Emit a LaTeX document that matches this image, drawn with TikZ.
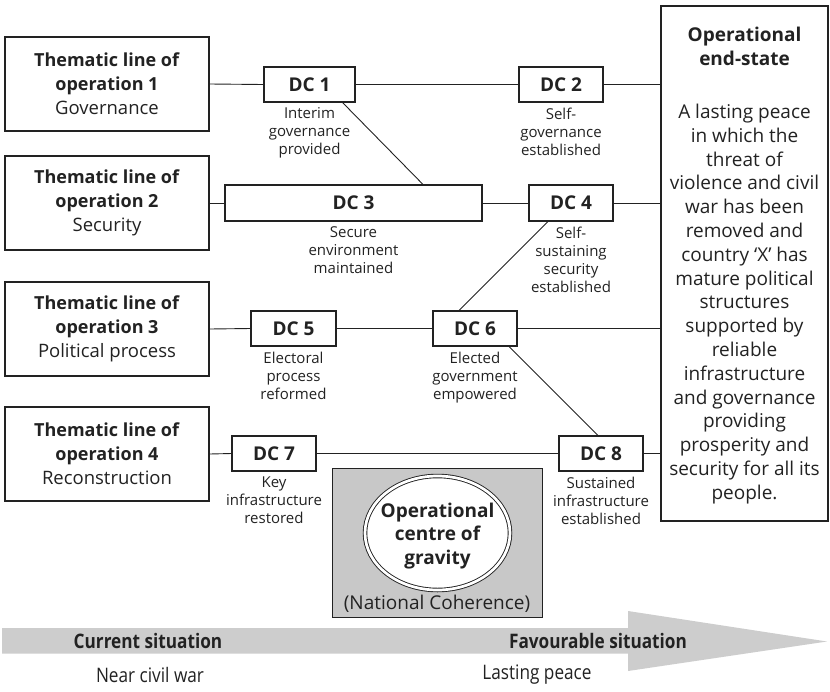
\documentclass[tikz,border=0pt]{standalone}
\usepackage{fontspec}
\setmainfont{Open Sans}
\newfontfamily\condfont[FakeStretch=0.86]{Open Sans}
\usetikzlibrary{shapes.geometric}
\definecolor{ink}{HTML}{222222}
\definecolor{boxgray}{HTML}{C8C8C8}
\definecolor{arrowgray}{HTML}{CDCDCD}
\tikzset{
  linebox/.style={draw=ink, line width=1.1pt, fill=white, inner sep=0pt, align=center, text=ink},
  thembox/.style={linebox, minimum width=204pt, minimum height=94pt, font=\fontsize{18}{24}\selectfont},
  dcbox/.style={linebox, minimum height=35pt, font=\bfseries\fontsize{19}{22}\selectfont},
  dclabel/.style={anchor=north, inner sep=0pt, yshift=-5pt, align=center, text=ink, font=\fontsize{15}{18}\selectfont},
  conn/.style={draw=ink, line width=0.9pt},
  plain/.style={inner sep=0pt, text=ink, align=center}
}
\begin{document}
\begin{tikzpicture}[x=1pt,y=-1pt]
\useasboundingbox (0,0) rectangle (830,691);
% arrow
\fill[arrowgray] (2,628) -- (628,628) -- (628,611) -- (827,641.5) -- (628,671) -- (628,653.5) -- (2,653.5) -- cycle;
\node[plain, font=\condfont\bfseries\fontsize{20}{24}\selectfont] (cur) at (148,641) {Current situation};
\node[plain, font=\condfont\bfseries\fontsize{20}{24}\selectfont] (fav) at (598,641) {Favourable situation};
\node[plain, font=\condfont\fontsize{20}{24}\selectfont] (near) at (150,675) {Near civil war};
\node[plain, font=\condfont\fontsize{20}{24}\selectfont] (last) at (537,675) {Lasting peace};
% thematic boxes
\node[thembox] (tl1) at (107,84) {\textbf{Thematic line of}\\\textbf{operation 1}\\{\fontsize{18.5}{24}\selectfont Governance}};
\node[thembox] (tl2) at (107,203) {\textbf{Thematic line of}\\\textbf{operation 2}\\{\fontsize{18.5}{24}\selectfont Security}};
\node[thembox] (tl3) at (107,329) {\textbf{Thematic line of}\\\textbf{operation 3}\\{\fontsize{18.5}{24}\selectfont Political process}};
\node[thembox] (tl4) at (107,454) {\textbf{Thematic line of}\\\textbf{operation 4}\\{\fontsize{18.5}{24}\selectfont Reconstruction}};
% end state
\node[linebox, minimum width=167pt, minimum height=515pt] (end) at (744.5,263.5) {};
\node[plain, font=\bfseries\fontsize{19}{24}\selectfont] (endtitle) at (744.5,46) {Operational\\end-state};
\node[plain, font=\fontsize{19}{23.8}\selectfont] (endtext) at (744.5,304) {A lasting peace\\in which the\\threat of\\violence and civil\\war has been\\removed and\\country ‘X’ has\\mature political\\structures\\supported by\\reliable\\infrastructure\\and governance\\providing\\prosperity and\\security for all its\\people.};
% DC boxes
\node[dcbox, minimum width=91pt] (dc1) at (309.5,84.5) {DC 1};
\node[dcbox, minimum width=84pt] (dc2) at (561,84.5) {DC 2};
\node[dcbox, minimum width=257pt, minimum height=36pt] (dc3) at (353.5,203) {DC 3};
\node[dcbox, minimum width=84pt, minimum height=36pt] (dc4) at (571,203) {DC 4};
\node[dcbox, minimum width=85pt] (dc5) at (293.5,328.5) {DC 5};
\node[dcbox, minimum width=84pt] (dc6) at (475,328.5) {DC 6};
\node[dcbox, minimum width=84pt] (dc7) at (274,453.5) {DC 7};
\node[dcbox, minimum width=84pt] (dc8) at (601,453.5) {DC 8};
% labels
\node[dclabel] (l1) at (dc1.south) {Interim\\governance\\provided};
\node[dclabel] (l2) at (dc2.south) {Self-\\governance\\established};
\node[dclabel] (l3) at (dc3.south) {Secure\\environment\\maintained};
\node[dclabel] (l4) at (dc4.south) {Self-\\sustaining\\security\\established};
\node[dclabel] (l5) at (dc5.south) {Electoral\\process\\reformed};
\node[dclabel] (l6) at (dc6.south) {Elected\\government\\empowered};
\node[dclabel] (l7) at (dc7.south) {Key\\infrastructure\\restored};
\node[dclabel] (l8) at (dc8.south) {Sustained\\infrastructure\\established};
% connectors
\draw[conn] (tl1.east) -- (dc1.west);
\draw[conn] (dc1.east) -- (dc2.west);
\draw[conn] (dc2.east) -- (dc2.east -| end.west);
\draw[conn] (tl2.east) -- (dc3.west);
\draw[conn] (dc3.east) -- (dc4.west);
\draw[conn] (dc4.east) -- (dc4.east -| end.west);
\draw[conn] (tl3.east) -- (dc5.west);
\draw[conn] (dc5.east) -- (dc6.west);
\draw[conn] (dc6.east) -- (dc6.east -| end.west);
\draw[conn] (tl4.east) -- (dc7.west);
\draw[conn] (dc7.east) -- (dc8.west);
\draw[conn] (dc8.east) -- (dc8.east -| end.west);
\draw[conn] ([xshift=-13pt]dc1.south east) -- ([xshift=69.5pt]dc3.north);
\draw[conn] ([xshift=-23pt]dc4.south) -- ([xshift=-16pt]dc6.north);
\draw[conn] ([xshift=34pt]dc6.south) -- ([xshift=-3pt]dc8.north);
% centre of gravity
\node[draw=ink, line width=1pt, fill=boxgray, minimum width=210pt, minimum height=149pt, inner sep=0pt] (cogbox) at (437,542.5) {};
\node[ellipse, draw=ink, line width=0.9pt, double=white, double distance=2.7pt, fill=white, minimum width=145pt, minimum height=114pt, inner sep=0pt] (cog) at (437.5,533) {};
\node[plain, font=\bfseries\fontsize{19}{23.5}\selectfont] (cogtext) at (437.5,536) {Operational\\centre of\\gravity};
\node[plain, font=\fontsize{19}{23}\selectfont] (nat) at (437,604) {(National Coherence)};
\end{tikzpicture}
\end{document}
